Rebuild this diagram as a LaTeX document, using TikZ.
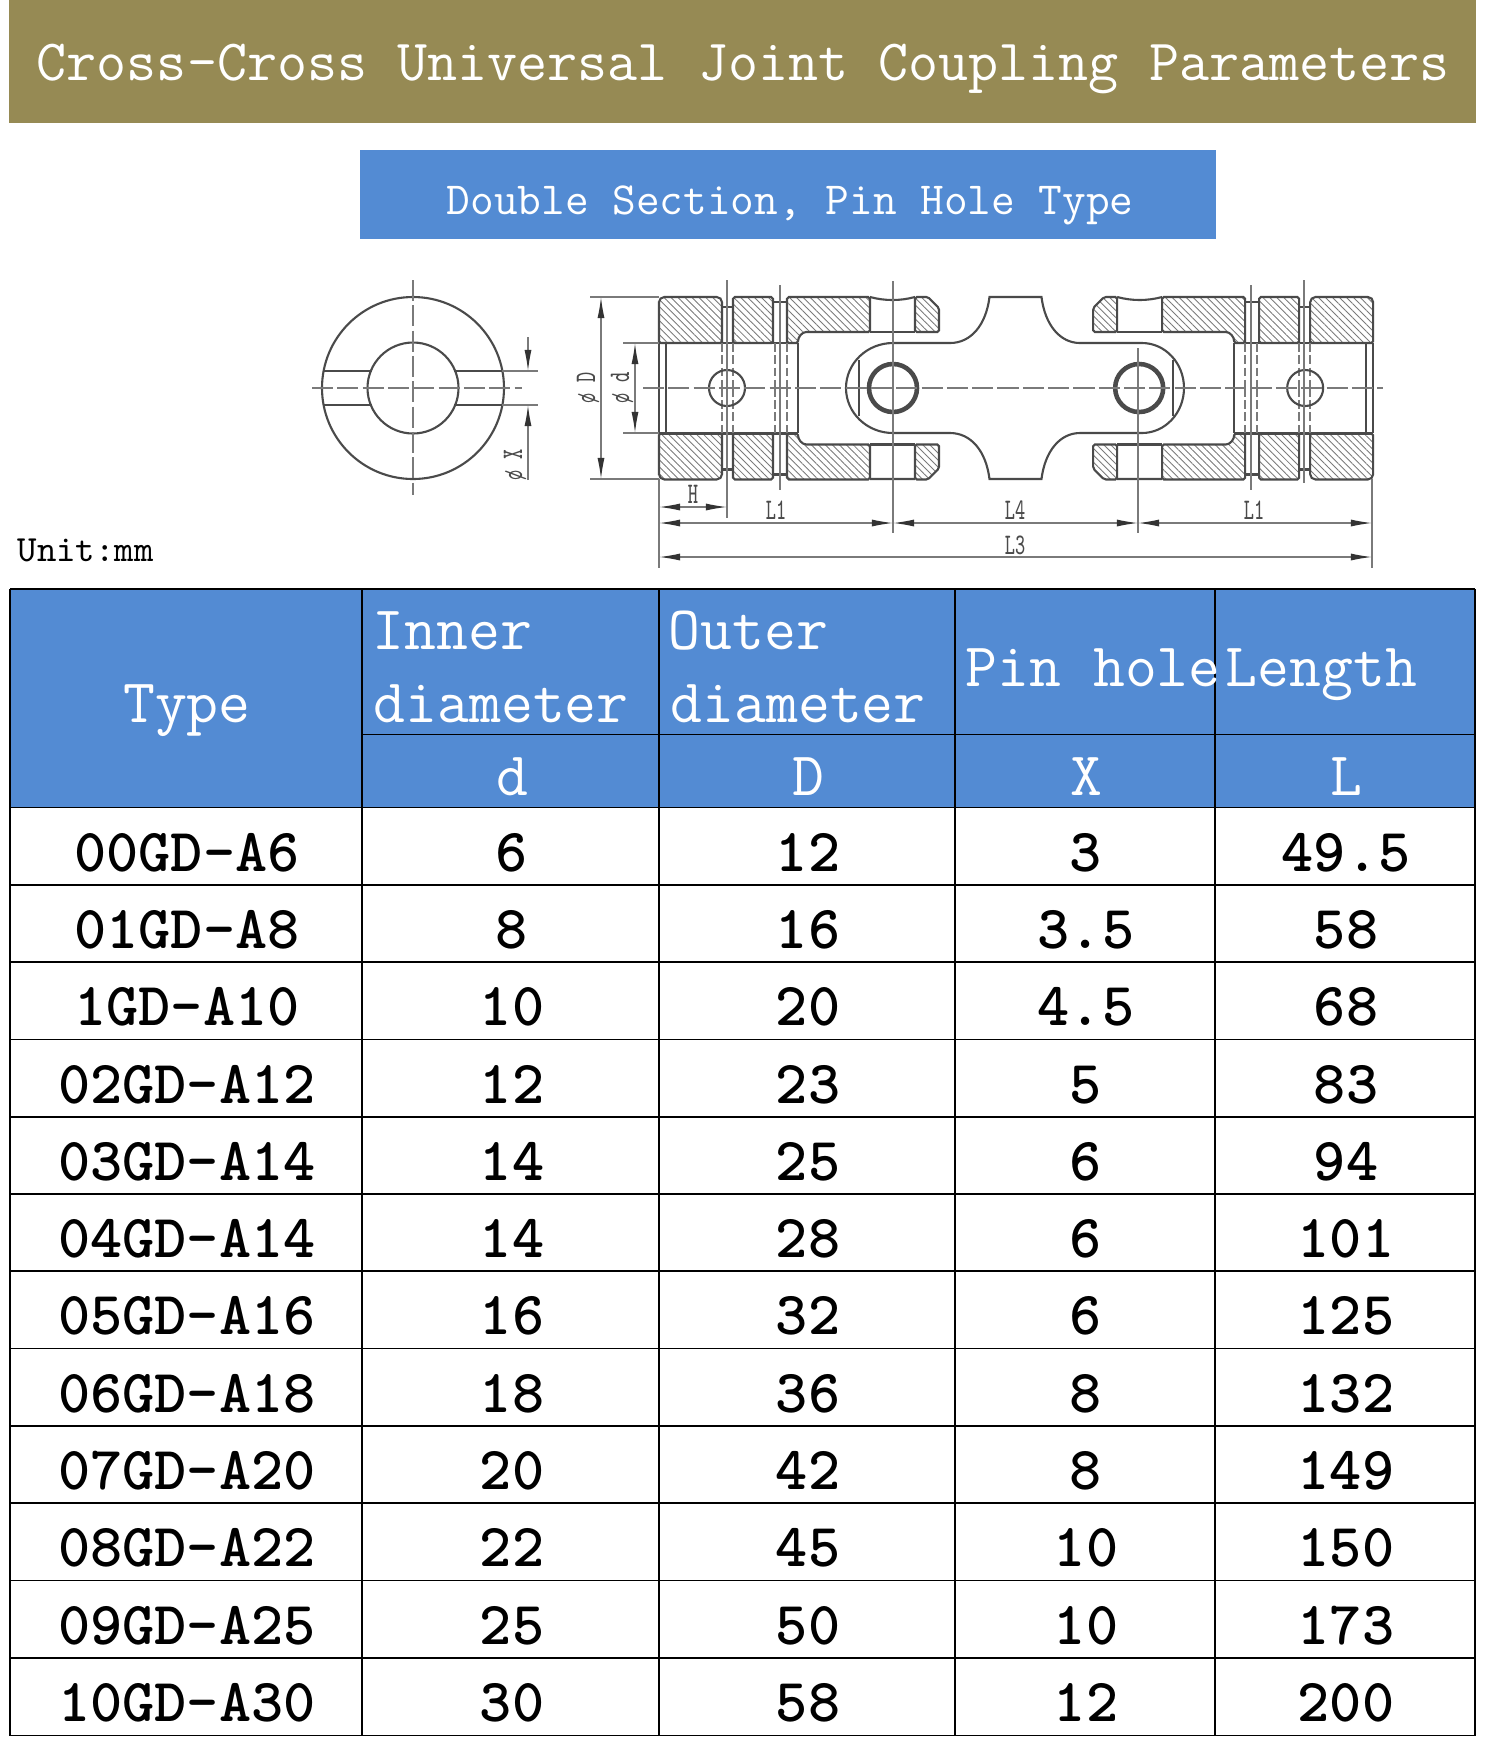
\documentclass[tikz,border=0pt]{standalone}
\usetikzlibrary{arrows.meta,patterns.meta}
\definecolor{bandolive}{HTML}{968A54}
\definecolor{bandblue}{HTML}{538BD3}
\definecolor{partgray}{HTML}{4A4A4A}
\definecolor{dimgray}{HTML}{7A7A7A}
\newcommand{\narrowtxt}[1]{\scalebox{.65}[1]{#1}}
\tikzset{
  part/.style={draw=partgray,line width=.6pt},
  hatched/.style={part,rounded corners=.5pt,pattern={Lines[angle=-45,distance=1.4pt,line width=.25pt]},pattern color=dimgray},
  hidden/.style={draw=dimgray,line width=.5pt,dash pattern=on 2.5pt off 1pt},
  centreline/.style={draw=dimgray,line width=.35pt,dash pattern=on 6pt off 1.2pt},
  thinline/.style={draw=dimgray,line width=.35pt},
  dimline/.style={thinline,{Latex[length=6pt,width=2pt,color=black!80]}-{Latex[length=6pt,width=2pt,color=black!80]}},
  dimlabel/.style={text=partgray,inner sep=0pt,font=\fontsize{8.5}{9}\ttfamily},
  flipx/.style={xshift=20.31cm,xscale=-1},
  flipy/.style={yshift=-7.76cm,yscale=-1},
  noflip/.style={},
  cell/.style={anchor=base,inner sep=0pt,font=\fontsize{17.4}{20}\ttfamily\bfseries},
  headcell/.style={anchor=base,inner sep=0pt,text=white,font=\fontsize{17.6}{20}\ttfamily},
  headleft/.style={headcell,anchor=base west},
}
\newcommand{\quarterjoint}{
  \draw[hatched] (659,343) -- (659,303) [rounded corners=1.5pt] -- (659,297) -- (722,297) [rounded corners=.5pt] -- (722,343) -- cycle;
  \draw[hatched] (733,343) -- (733,297) -- (773,297) -- (773,343) -- cycle;
  \draw[hatched] (787,343) -- (787,297) -- (870,297) -- (870,332) -- (808,332) .. controls (802,332) and (798,337) .. (798,343) -- cycle;
  \draw[hatched] (915,332) -- (915,297) -- (928,297) -- (939,308) -- (939,332) -- cycle;
  \draw[part] (722,307) -- (733,307) (773,302) -- (787,302) (659,343) -- (798,343) (870,332) -- (915,332);
  \draw[part] (659,343) -- (659,388) (666,343) -- (666,388) (798,343) -- (798,388);
  \draw[hidden] (722,343) -- (722,388) (733,343) -- (733,388) (775,343) -- (775,388) (787,343) -- (787,388);
}
\begin{document}
\begin{tikzpicture}[x=0.01cm,y=-0.01cm]
  \useasboundingbox (0,0) rectangle (1500,1750);
  \fill[bandolive] (9,0) rectangle (1476,123);
  \node[anchor=base west,inner sep=0pt,text=white,font=\fontsize{16.6}{18}\ttfamily] (title) at (36,80) {Cross-Cross Universal Joint Coupling Parameters};
  \fill[bandblue] (360,150) rectangle (1216,239);
  \node[anchor=base west,inner sep=0pt,text=white,font=\fontsize{13.08}{15}\ttfamily] (subtitle) at (446,214) {Double Section, Pin Hole Type};
  \node[anchor=base west,inner sep=0pt,font=\fontsize{10.5}{12}\ttfamily] (unit) at (17,561) {Unit:mm};

  \draw[part] (413,388) circle[radius=91] (413,388) circle[radius=45.5];
  \draw[part,line width=.8pt] (323,371) -- (372,371) (323,405) -- (372,405) (454,371) -- (502,371) (454,405) -- (502,405);
  \draw[centreline] (413,280) -- (413,495);
  \draw[centreline] (312,388) -- (522,388);
  \draw[thinline] (502,371) -- (538,371) (502,405) -- (538,405);
  \draw[thinline,-{Latex[length=6pt,width=2pt,color=black!80]}] (528,337) -- (528,371);
  \draw[thinline,-{Latex[length=6pt,width=2pt,color=black!80]}] (528,480) -- (528,405);
  \node[dimlabel,rotate=90] (labx) at (515,465) {\narrowtxt{ø X}};

  \foreach \fa/\fb in {noflip/noflip,flipx/noflip,noflip/flipy,flipx/flipy}{
    \begin{scope}[\fa,\fb]
      \quarterjoint
    \end{scope}
  }
  \foreach \fa in {noflip,flipx}{
    \begin{scope}[\fa]
      \draw[part] (870,297) .. controls (885,301) and (900,301) .. (915,297) (870,479) -- (915,479);
      \draw[part] (859,360) -- (859,416);
      \draw[part,line width=1.3pt] (893,388) circle[radius=24];
      \draw[part] (727,388) circle[radius=18];
    \end{scope}
  }
  \draw[part] (989.5,297) -- (1041.5,297) .. controls (1045,325) and (1060,343) .. (1080,343) -- (1142,343)
    arc[start angle=270,end angle=450,x radius=42,y radius=45] -- (1080,433)
    .. controls (1060,433) and (1045,451) .. (1041.5,479) -- (989.5,479)
    .. controls (986,451) and (971,433) .. (950,433) -- (893,433)
    arc[start angle=90,end angle=270,x radius=47,y radius=45] -- (950,343)
    .. controls (971,343) and (986,325) .. (989.5,297) -- cycle;

  \draw[centreline] (643,388) -- (1383,388);
  \draw[thinline] (727,280) -- (727,518) (1304,280) -- (1304,483) (780,285) -- (780,490) (1251,285) -- (1251,490);
  \draw[thinline] (893,281) -- (893,533) (1138,348) -- (1138,533);
  \draw[thinline] (659,479) -- (659,568) (1372,479) -- (1372,568);
  \draw[thinline] (590,297) -- (659,297) (590,479) -- (659,479) (623,343) -- (659,343) (623,433) -- (659,433);

  \coordinate (la) at (659,523);\coordinate (lb) at (893,523);\coordinate (lc) at (1138,523);\coordinate (ld) at (1372,523);
  \coordinate (ha) at (659,507);\coordinate (hb) at (727,507);
  \coordinate (ta) at (659,557);\coordinate (tb) at (1372,557);
  \coordinate (da) at (601,297);\coordinate (db) at (601,479);
  \coordinate (ia) at (635,343);\coordinate (ib) at (635,433);
  \draw[dimline] (la) -- (lb);
  \draw[dimline] (lb) -- (lc);
  \draw[dimline] (lc) -- (ld);
  \draw[dimline] (ha) -- (hb);
  \draw[dimline] (ta) -- (tb);
  \draw[dimline] (da) -- (db);
  \draw[dimline] (ia) -- (ib);
  \node[dimlabel] (labh) at (693,494) {\narrowtxt{H}};
  \node[dimlabel] (labla) at (776,510) {\narrowtxt{L1}};
  \node[dimlabel] (lablb) at (1015,510) {\narrowtxt{L4}};
  \node[dimlabel] (lablc) at (1254,510) {\narrowtxt{L1}};
  \node[dimlabel] (labt) at (1015,545) {\narrowtxt{L3}};
  \node[dimlabel,rotate=90] (labd) at (588,388) {\narrowtxt{ø D}};
  \node[dimlabel,rotate=90] (labi) at (622,388) {\narrowtxt{ø d}};

  \fill[bandblue] (10,589) rectangle (1475,807);
  \foreach \yy in {807.5,884.8,962.1,1039.4,1116.7,1194,1271.3,1348.6,1425.9,1503.2,1580.5,1657.8,1735.5}{
    \draw[line width=.5pt] (10,\yy) -- (1475,\yy);
  }
  \draw[line width=.5pt] (10,589) -- (1475,589) (362,734.5) -- (1475,734.5);
  \foreach \xx in {10,362,659,955,1215,1475}{
    \draw[line width=.5pt] (\xx,589) -- (\xx,1735.5);
  }
  \node[headcell] (htype) at (187,722) {Type};
  \node[headleft] (hinner) at (372,649) {Inner};
  \node[headleft] (hdia) at (373,722) {diameter};
  \node[headleft] (houter) at (668,649) {Outer};
  \node[headleft] (hdib) at (670,722) {diameter};
  \node[headleft] (hpin) at (965,686) {Pin hole};
  \node[headleft] (hlen) at (1225,686) {Length};
  \node[headcell] (hd) at (512,795) {d};
  \node[headcell] (hD) at (808,795) {D};
  \node[headcell] (hX) at (1086,795) {X};
  \node[headcell] (hL) at (1346,795) {L};

  \foreach \tname/\vd/\vo/\vx/\vl [count=\r] in {00GD-A6/6/12/3/49.5,01GD-A8/8/16/3.5/58,1GD-A10/10/20/4.5/68,02GD-A12/12/23/5/83,03GD-A14/14/25/6/94,04GD-A14/14/28/6/101,05GD-A16/16/32/6/125,06GD-A18/18/36/8/132,07GD-A20/20/42/8/149,08GD-A22/22/45/10/150,09GD-A25/25/50/10/173,10GD-A30/30/58/12/200}{
    \pgfmathsetmacro{\by}{807+77.33*(\r-1)+64}
    \node[cell] (type\r) at (187,\by) {\tname};
    \node[cell] (inner\r) at (512,\by) {\vd};
    \node[cell] (outer\r) at (808,\by) {\vo};
    \node[cell] (pin\r) at (1086,\by) {\vx};
    \node[cell] (len\r) at (1346,\by) {\vl};
  }
\end{tikzpicture}
\end{document}
